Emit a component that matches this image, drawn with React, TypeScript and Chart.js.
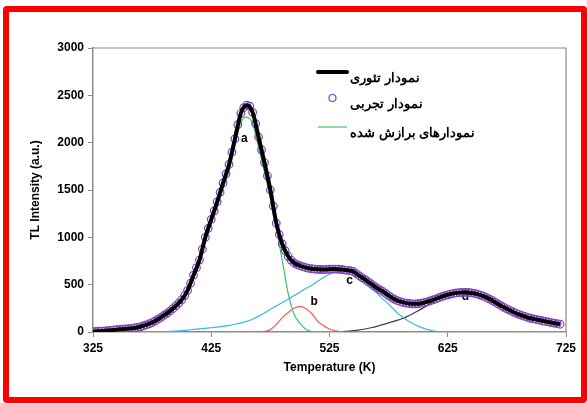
import React, { useEffect, useRef } from "react";
import { Chart, registerables } from "chart.js";

Chart.register(...registerables);

// ---- data ----
const curveTemps = [
  325, 330, 335, 340, 345, 350, 355, 360, 365, 370,
  375, 380, 385, 390, 395, 400, 405, 410, 415, 420,
  425, 430, 435, 440, 445, 450, 455, 460, 465, 470,
  475, 480, 485, 490, 495, 500, 505, 510, 515, 520,
  525, 530, 535, 540, 545, 550, 555, 560, 565, 570,
  575, 580, 585, 590, 595, 600, 605, 610, 615, 620,
  625, 630, 635, 640, 645, 650, 655, 660, 665, 670,
  675, 680, 685, 690, 695, 700, 705, 710, 715, 720,
];
const theoryValues = [
  5, 8, 12, 18, 25, 30, 36, 42, 55, 75,
  100, 135, 175, 220, 275, 340, 440, 600, 760, 1000,
  1190, 1375, 1575, 1770, 2040, 2310, 2395, 2320, 2060, 1790,
  1500, 1150, 930, 800, 730, 700, 680, 668, 662, 659,
  663, 665, 660, 652, 640, 595, 555, 510, 465, 429,
  385, 345, 320, 305, 298, 299, 310, 328, 350, 374,
  393, 408, 416, 419, 413, 400, 378, 350, 315, 278,
  245, 214, 187, 165, 145, 132, 119, 106, 94, 82,
];

const expTemps = [
  325, 327.5, 330, 332.5, 335, 337.5, 340, 342.5, 345, 347.5,
  350, 352.5, 355, 357.5, 360, 362.5, 365, 367.5, 370, 372.5,
  375, 377.5, 380, 382.5, 385, 387.5, 390, 392.5, 395, 397.5,
  400, 402.5, 405, 407.5, 410, 412.5, 415, 417.5, 420, 422.5,
  425, 427.5, 430, 432.5, 435, 437.5, 440, 442.5, 445, 447.5,
  450, 452.5, 455, 457.5, 460, 462.5, 465, 467.5, 470, 472.5,
  475, 477.5, 480, 482.5, 485, 487.5, 490, 492.5, 495, 497.5,
  500, 502.5, 505, 507.5, 510, 512.5, 515, 517.5, 520, 522.5,
  525, 527.5, 530, 532.5, 535, 537.5, 540, 542.5, 545, 547.5,
  550, 552.5, 555, 557.5, 560, 562.5, 565, 567.5, 570, 572.5,
  575, 577.5, 580, 582.5, 585, 587.5, 590, 592.5, 595, 597.5,
  600, 602.5, 605, 607.5, 610, 612.5, 615, 617.5, 620, 622.5,
  625, 627.5, 630, 632.5, 635, 637.5, 640, 642.5, 645, 647.5,
  650, 652.5, 655, 657.5, 660, 662.5, 665, 667.5, 670, 672.5,
  675, 677.5, 680, 682.5, 685, 687.5, 690, 692.5, 695, 697.5,
  700, 702.5, 705, 707.5, 710, 712.5, 715, 717.5, 720,
];
const expValues = [
  5, 6, 8, 10, 12, 15, 18, 21, 25, 28,
  30, 33, 36, 39, 42, 48, 55, 64, 75, 87,
  100, 117, 135, 155, 175, 197, 220, 246, 275, 305,
  340, 385, 440, 515, 600, 680, 760, 875, 1000, 1095,
  1190, 1280, 1375, 1475, 1575, 1670, 1770, 1900, 2040, 2190,
  2310, 2370, 2395, 2385, 2320, 2200, 2060, 1925, 1790, 1650,
  1500, 1330, 1150, 1030, 930, 860, 800, 760, 730, 712,
  700, 690, 680, 673, 668, 665, 662, 660, 659, 661,
  663, 664, 665, 663, 660, 657, 652, 647, 640, 620,
  595, 575, 555, 532, 510, 487, 465, 447, 429, 407,
  385, 364, 345, 331, 320, 311, 305, 301, 298, 298,
  299, 304, 310, 318, 328, 339, 350, 362, 374, 384,
  393, 401, 408, 413, 416, 418, 419, 417, 413, 407,
  400, 390, 378, 365, 350, 333, 315, 296, 278, 261,
  245, 229, 214, 200, 187, 176, 165, 155, 145, 138,
  132, 125, 119, 112, 106, 100, 94, 88, 82,
];

const peakATemps = [
  325, 330, 335, 340, 345, 350, 355, 360, 365, 370,
  375, 380, 385, 390, 395, 400, 405, 410, 415, 420,
  425, 430, 435, 440, 445, 450, 455, 460, 465, 470,
  475, 480, 485, 490, 495, 500, 505, 510, 515, 520,
  525, 530, 535,
];
const peakAValues = [
  5, 8, 12, 18, 25, 30, 36, 42, 55, 75,
  100, 135, 172, 214, 265, 325, 420, 573, 727, 962,
  1145, 1323, 1516, 1700, 1958, 2214, 2270, 2200, 1950, 1690,
  1410, 1100, 760, 410, 190, 90, 30, 5, 0, 0,
  0, 0, 0,
];

const peakBTemps = [
  455, 460, 465, 470, 475, 480, 485, 490, 495, 500,
  505, 510, 515, 520, 525, 530, 535, 540, 545, 550,
  555, 560, 565, 570, 575, 580, 585, 590, 595, 600,
  605, 610, 615, 620, 625, 630,
];
const peakBValues = [
  0, 0, 0, 5, 25, 80, 150, 205, 250, 270,
  245, 195, 115, 65, 32, 12, 4, 0, 0, 0,
  0, 0, 0, 0, 0, 0, 0, 0, 0, 0,
  0, 0, 0, 0, 0, 0,
];

const peakCTemps = [
  380, 385, 390, 395, 400, 405, 410, 415, 420, 425,
  430, 435, 440, 445, 450, 455, 460, 465, 470, 475,
  480, 485, 490, 495, 500, 505, 510, 515, 520, 525,
  530, 535, 540, 545, 550, 555, 560, 565, 570, 575,
  580, 585, 590, 595, 600, 605, 610, 615, 620, 625,
  630, 635, 640, 645, 650, 655, 660, 665, 670, 675,
  680, 685, 690, 695, 700, 705, 710, 715, 720,
];
const peakCValues = [
  0, 3, 6, 10, 15, 20, 27, 33, 38, 45,
  52, 59, 70, 82, 96, 112, 135, 165, 200, 240,
  275, 310, 345, 385, 420, 460, 495, 535, 575, 612,
  635, 648, 645, 625, 585, 530, 470, 410, 350, 295,
  230, 175, 130, 92, 62, 38, 20, 8, 2, 0,
  0, 0, 0, 0, 0, 0, 0, 0, 0, 0,
  0, 0, 0, 0, 0, 0, 0, 0, 0,
];

const peakDTemps = [
  530, 535, 540, 545, 550, 555, 560, 565, 570, 575,
  580, 585, 590, 595, 600, 605, 610, 615, 620, 625,
  630, 635, 640, 645, 650, 655, 660, 665, 670, 675,
  680, 685, 690, 695, 700, 705, 710, 715, 720,
];
const peakDValues = [
  0, 2, 8, 14, 22, 32, 45, 60, 78, 96,
  115, 135, 160, 190, 225, 260, 300, 340, 372, 393,
  408, 416, 419, 413, 400, 378, 350, 315, 278, 245,
  214, 187, 165, 145, 132, 119, 106, 94, 82,
];

const xTickValues = [325, 425, 525, 625, 725];
const yTickValues = [0, 500, 1000, 1500, 2000, 2500, 3000];

const peakLabels = ["a", "b", "c", "d"];
const peakLabelTemps = [453, 512, 542, 640];
const peakLabelValues = [2040, 323, 540, 370];
const peakLabelOnTop = [true, true, true, false];

const seriesNames = ["نمودار تئوری", "نمودار تجربی", "نمودارهای برازش شده"];

const toPoints = (xs: number[], ys: number[]) => xs.map((x, i) => ({ x, y: ys[i] }));

const FONT = "'Liberation Sans', Arial, sans-serif";

const drawPeakLabels = (chart: any, onTop: boolean) => {
  const { ctx, scales } = chart;
  ctx.save();
  ctx.fillStyle = "#000";
  ctx.font = `bold 12px ${FONT}`;
  ctx.textAlign = "center";
  ctx.textBaseline = "middle";
  peakLabels.forEach((t, i) => {
    if (peakLabelOnTop[i] !== onTop) return;
    ctx.fillText(t, scales.x.getPixelForValue(peakLabelTemps[i]), scales.y.getPixelForValue(peakLabelValues[i]));
  });
  ctx.restore();
};

const frameAndLabelsPlugin = {
  id: "frameAndLabels",
  beforeDatasetsDraw(chart: any) {
    const { ctx, chartArea } = chart;
    ctx.save();
    ctx.strokeStyle = "#8c8c8c";
    ctx.lineWidth = 1.2;
    ctx.beginPath();
    ctx.moveTo(chartArea.left, chartArea.top);
    ctx.lineTo(chartArea.right, chartArea.top);
    ctx.lineTo(chartArea.right, chartArea.bottom);
    ctx.stroke();
    ctx.restore();
    drawPeakLabels(chart, false);
  },
  afterDatasetsDraw(chart: any) {
    drawPeakLabels(chart, true);
  },
  afterDraw(chart: any) {
    const { ctx } = chart;
    const ds = chart.data.datasets;
    const symX = 318;
    const symW = 29;
    const textX = 350;
    const rowsY = [72, 98, 127];
    ctx.save();
    for (let i = 0; i < 3; i++) {
      const y = rowsY[i];
      const d = ds[i];
      if (i === 1) {
        ctx.beginPath();
        ctx.arc(symX + symW / 2, y, 3.5, 0, Math.PI * 2);
        ctx.strokeStyle = d.pointBorderColor;
        ctx.lineWidth = 1.2;
        ctx.stroke();
      } else {
        ctx.beginPath();
        ctx.moveTo(symX, y);
        ctx.lineTo(symX + symW, y);
        ctx.strokeStyle = d.borderColor;
        ctx.lineWidth = i === 0 ? 4 : 1.2;
        ctx.lineCap = i === 0 ? "round" : "butt";
        ctx.stroke();
      }
      ctx.fillStyle = "#000";
      ctx.font = `bold 13px ${FONT}`;
      ctx.direction = "rtl";
      ctx.textAlign = "left";
      ctx.textBaseline = "middle";
      ctx.fillText(d.label, textX, y + 6);
    }
    ctx.restore();
  },
};

export default function App() {
  const ref = useRef<HTMLCanvasElement>(null);

  useEffect(() => {
    const tickFont = { family: FONT, weight: "bold" as const, size: 12 };
    const chart = new Chart(ref.current as HTMLCanvasElement, {
      type: "line",
      data: {
        datasets: [
          {
            label: seriesNames[0],
            data: toPoints(curveTemps, theoryValues),
            borderColor: "#000000",
            borderWidth: 4,
            pointRadius: 0,
            cubicInterpolationMode: "monotone",
          },
          {
            label: seriesNames[1],
            data: toPoints(expTemps, expValues),
            showLine: false,
            borderColor: "#8040c0",
            pointRadius: 3.8,
            pointBorderWidth: 1.2,
            pointBorderColor: "#8040c0",
            pointBackgroundColor: "rgba(255,255,255,0)",
          },
          {
            label: seriesNames[2],
            data: toPoints(peakATemps, peakAValues),
            borderColor: "#3cc36a",
            borderWidth: 1.2,
            pointRadius: 0,
            cubicInterpolationMode: "monotone",
          },
          {
            label: "b",
            data: toPoints(peakBTemps, peakBValues),
            borderColor: "#f25a5a",
            borderWidth: 1.2,
            pointRadius: 0,
            cubicInterpolationMode: "monotone",
          },
          {
            label: "c",
            data: toPoints(peakCTemps, peakCValues),
            borderColor: "#3db6ea",
            borderWidth: 1.2,
            pointRadius: 0,
            cubicInterpolationMode: "monotone",
          },
          {
            label: "d",
            data: toPoints(peakDTemps, peakDValues),
            borderColor: "#404040",
            borderWidth: 1.2,
            pointRadius: 0,
            cubicInterpolationMode: "monotone",
          },
        ],
      },
      options: {
        responsive: false,
        animation: false,
        devicePixelRatio: 1,
        layout: { padding: { left: 20, right: 21, top: 48, bottom: 21 } },
        plugins: { legend: { display: false }, tooltip: { enabled: false } },
        scales: {
          x: {
            type: "linear",
            min: 325,
            max: 725,
            afterFit: (s: any) => {
              s.height = 50;
            },
            afterBuildTicks: (s: any) => {
              s.ticks = xTickValues.map((v) => ({ value: v }));
            },
            ticks: {
              font: tickFont,
              color: "#000",
              padding: 4,
              maxRotation: 0,
              autoSkip: false,
              callback: (v: any) => String(v),
            },
            grid: { display: true, drawOnChartArea: false, tickLength: 5, color: "#8c8c8c" },
            border: { color: "#8c8c8c", width: 1.5 },
            title: {
              display: true,
              text: "Temperature (K)",
              font: tickFont,
              color: "#000",
              padding: { top: 0, bottom: 7 },
            },
          },
          y: {
            min: 0,
            max: 3000,
            afterFit: (s: any) => {
              s.width = 73;
            },
            afterBuildTicks: (s: any) => {
              s.ticks = yTickValues.map((v) => ({ value: v }));
            },
            ticks: {
              font: tickFont,
              color: "#000",
              padding: 4,
              autoSkip: false,
              callback: (v: any) => String(v),
            },
            grid: { display: true, drawOnChartArea: false, tickLength: 5, color: "#8c8c8c" },
            border: { color: "#8c8c8c", width: 1.5 },
            title: {
              display: true,
              text: "TL Intensity (a.u.)",
              font: tickFont,
              color: "#000",
              padding: { top: 8, bottom: 0 },
            },
          },
        },
      },
      plugins: [frameAndLabelsPlugin],
    } as any);
    return () => chart.destroy();
  }, []);

  return (
    <div style={{ position: "fixed", left: 0, top: 0, width: 587, height: 403, background: "#fff", overflow: "hidden" }}>
      <div
        style={{
          position: "absolute",
          left: 3,
          top: 6,
          width: 584,
          height: 397,
          border: "6px solid #ff0000",
          boxSizing: "border-box",
          borderRadius: 4,
        }}
      />
      <canvas
        ref={ref}
        width={587}
        height={403}
        style={{ position: "absolute", left: 0, top: 0, width: 587, height: 403 }}
      />
    </div>
  );
}
